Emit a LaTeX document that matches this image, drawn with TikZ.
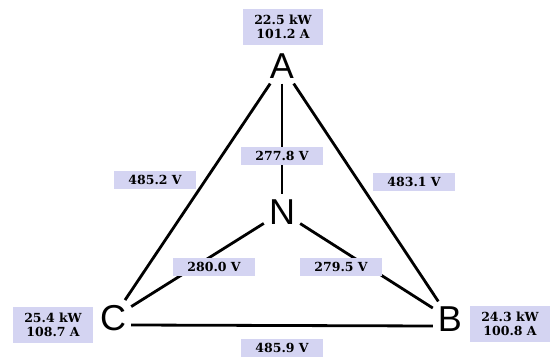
\documentclass[tikz,border=0pt]{standalone}
\usepackage{fontspec}
\newfontfamily\letterfont{Liberation Sans}
\newfontfamily\boxfont{DejaVu Serif}
\definecolor{boxfill}{RGB}{212,212,242}
\begin{document}
\begin{tikzpicture}[x=1pt, y=-1pt,
  phase/.style={font=\letterfont\fontsize{36}{36}\selectfont, inner sep=5pt},
  vbox/.style={fill=boxfill, font=\boxfont\bfseries\fontsize{12.5}{14}\selectfont,
    minimum width=82pt, minimum height=18pt, inner sep=2pt},
  pbox/.style={vbox, align=center, minimum width=80pt, minimum height=36pt},
  wire/.style={line width=2.8pt}]
  \useasboundingbox (0,0) rectangle (550,361);
  % Phases and neutral
  \node[phase] (A) at (282,66) {A};
  \node[phase] (N) at (282,212) {N};
  \node[phase] (C) at (113,318) {C};
  \node[phase] (B) at (450,319) {B};
  % Power and current per phase
  \node[pbox] (pA) at (283,27) {22.5 kW\\101.2 A};
  \node[pbox] (pC) at (53,325) {25.4 kW\\108.7 A};
  \node[pbox] (pB) at (510,324) {24.3 kW\\100.8 A};
  % Wires
  \draw[wire] (A) -- (N);
  \draw[wire] (A) -- (C);
  \draw[wire] (A) -- (B);
  \draw[wire] (N) -- (C);
  \draw[wire] (N) -- (B);
  \draw[wire] ([yshift=-7pt]C.east) -- ([yshift=-7pt]B.west);
  % Voltages
  \foreach \name/\x/\y/\val in {an/282/156/277.8, ac/155/180/485.2, ab/414/182/483.1,
                               nc/214/267/280.0, nb/341/267/279.5, cb/282/348/485.9}
    \node[vbox] (v\name) at (\x,\y) {\val\ V};
\end{tikzpicture}
\end{document}
